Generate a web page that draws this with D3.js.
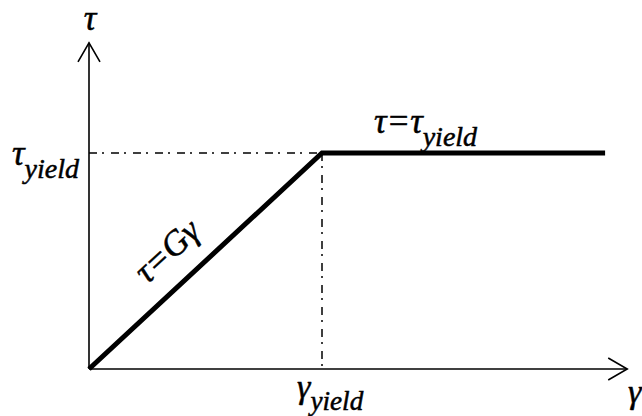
<!DOCTYPE html>
<html>
<head>
<meta charset="utf-8">
<script src="https://cdn.jsdelivr.net/npm/d3@7"></script>
<style>
  html, body { margin: 0; padding: 0; background: #fff; }
  svg { display: block; }
</style>
</head>
<body>
<script>
// Elastic–perfectly-plastic shear response (normalised by the yield point)
const strain = [0, 1, 2.215];      // γ / γ_yield
const stress = [0, 1, 1];          // τ / τ_yield
const yieldStrain = 1;
const yieldStress = 1;
const axisStrainEnd = 2.31;        // length of the γ axis
const axisStressEnd = 1.51;        // length of the τ axis

const width = 642, height = 416;
const FONT = "Liberation Serif";
const svg = d3.select("body").append("svg")
  .attr("width", width).attr("height", height);

const x = d3.scaleLinear().domain([0, 1]).range([89, 322]);
const y = d3.scaleLinear().domain([0, 1]).range([369, 153]);

// axes with open arrowheads
const axes = svg.append("g").attr("stroke", "#000").attr("fill", "none")
  .attr("stroke-width", 1.6);
axes.append("line").attr("x1", x(0)).attr("y1", y(0)).attr("x2", x(axisStrainEnd)).attr("y2", y(0));
axes.append("line").attr("x1", x(0)).attr("y1", y(0)).attr("x2", x(0)).attr("y2", y(axisStressEnd));
const ax = x(axisStrainEnd), ay = y(0);
axes.append("path").attr("d", `M${ax - 19},${ay - 11}L${ax},${ay}L${ax - 19},${ay + 11}`);
const tx = x(0), ty = y(axisStressEnd);
axes.append("path").attr("d", `M${tx - 11},${ty + 19}L${tx},${ty}L${tx + 11},${ty + 19}`);

// dash-dot guide lines to the yield point
const guides = svg.append("g").attr("stroke", "#000").attr("stroke-width", 1.5)
  .attr("stroke-dasharray", "8,5,2,7").attr("fill", "none");
guides.append("line").attr("x1", x(0)).attr("y1", y(yieldStress))
  .attr("x2", x(yieldStrain)).attr("y2", y(yieldStress));
guides.append("line").attr("x1", x(yieldStrain)).attr("y1", y(yieldStress))
  .attr("x2", x(yieldStrain)).attr("y2", y(0));

// stress–strain curve
const line = d3.line().x((d, i) => x(strain[i])).y(d => y(d));
svg.append("path").datum(stress).attr("d", line)
  .attr("fill", "none").attr("stroke", "#000").attr("stroke-width", 5)
  .attr("stroke-linejoin", "miter").attr("stroke-linecap", "butt");

// labels (slightly stroked so the italic glyphs read a little heavier)
function styleText(t, size) {
  return t.attr("font-family", FONT).attr("font-style", "italic")
    .attr("font-size", size).attr("fill", "#000")
    .attr("stroke", "#000").attr("stroke-width", 0.5);
}
function label(px, py, main, sub, size, anchor) {
  const t = styleText(svg.append("text").attr("x", px).attr("y", py), size)
    .attr("text-anchor", anchor || "start");
  t.append("tspan").text(main);
  if (sub) {
    t.append("tspan").attr("dy", size * 0.36).attr("font-size", size * 0.8).text(sub);
  }
  return t;
}

label(x(0) + 1, 30, "τ", null, 35, "middle");
label(12, 165, "τ", "yield", 35);
label(297, 398, "γ", "yield", 34);
label(628, 403, "γ", null, 34);
label(374, 133, "τ=τ", "yield", 35);

// slope label along the elastic branch
const angle = Math.atan2(y(1) - y(0), x(1) - x(0)) * 180 / Math.PI;
styleText(svg.append("text")
  .attr("transform", `translate(147,285) rotate(${angle})`), 35)
  .text("τ=Gγ");
</script>
</body>
</html>
